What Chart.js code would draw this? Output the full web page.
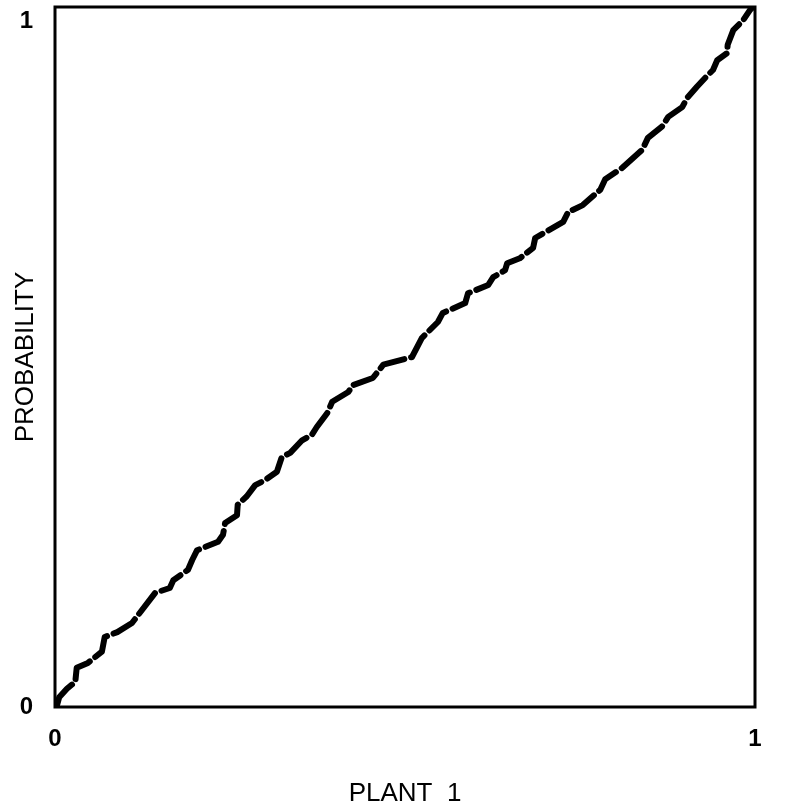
<!DOCTYPE html>
<html>
<head>
<meta charset="utf-8">
<script src="https://cdn.jsdelivr.net/npm/chart.js@4/dist/chart.umd.min.js"></script>
<style>
  html, body { margin: 0; padding: 0; background: #fff; }
  #wrap { width: 805px; height: 809px; position: relative; }
</style>
</head>
<body>
<div id="wrap"><canvas id="c"></canvas></div>
<script>
// Plant 1 cumulative proportion (x) vs probability (y)
const plantValues = [0.003, 0.006, 0.017, 0.029, 0.031, 0.047, 0.067, 0.071, 0.089, 0.110,
  0.143, 0.164, 0.169, 0.190, 0.196, 0.203, 0.233, 0.240, 0.243, 0.260,
  0.261, 0.274, 0.286, 0.300, 0.317, 0.324, 0.336, 0.353, 0.367, 0.374,
  0.389, 0.396, 0.419, 0.426, 0.454, 0.469, 0.510, 0.524, 0.547, 0.554,
  0.586, 0.590, 0.619, 0.626, 0.643, 0.646, 0.664, 0.683, 0.686, 0.726,
  0.733, 0.754, 0.779, 0.786, 0.810, 0.839, 0.847, 0.867, 0.876, 0.896,
  0.903, 0.917, 0.929, 0.940, 0.946, 0.960, 0.961, 0.969, 0.983, 0.993, 0.997];
const probabilityValues = [0.003, 0.014, 0.026, 0.036, 0.056, 0.063, 0.079, 0.100, 0.107, 0.120,
  0.163, 0.170, 0.181, 0.196, 0.210, 0.224, 0.236, 0.246, 0.263, 0.274,
  0.289, 0.301, 0.317, 0.324, 0.336, 0.357, 0.363, 0.381, 0.389, 0.400,
  0.420, 0.436, 0.450, 0.460, 0.470, 0.489, 0.500, 0.527, 0.550, 0.563,
  0.577, 0.591, 0.603, 0.614, 0.624, 0.634, 0.641, 0.656, 0.670, 0.693,
  0.707, 0.717, 0.739, 0.754, 0.770, 0.796, 0.813, 0.829, 0.843, 0.857,
  0.870, 0.886, 0.899, 0.910, 0.924, 0.934, 0.946, 0.967, 0.981, 0.996, 1.000];
const xTickLabels = ['0', '1'];
const yTickLabels = ['0', '1'];
const xTitle = 'PLANT  1';
const yTitle = 'PROBABILITY';

const points = plantValues.map((v, i) => ({ x: v, y: probabilityValues[i] }));

const frame = {
  id: 'frame',
  afterDraw(chart) {
    const { ctx, chartArea: a } = chart;
    ctx.save();
    ctx.strokeStyle = '#000';
    ctx.lineWidth = 3;
    ctx.strokeRect(a.left, a.top, a.right - a.left, a.bottom - a.top);
    ctx.restore();
  }
};
const bg = {
  id: 'bg',
  beforeDraw(chart) {
    const { ctx } = chart;
    ctx.save();
    ctx.fillStyle = '#fff';
    ctx.fillRect(0, 0, chart.width, chart.height);
    ctx.restore();
  }
};

new Chart(document.getElementById('c'), {
  type: 'scatter',
  data: {
    datasets: [{
      data: points,
      showLine: true,
      borderColor: '#000',
      borderWidth: 6,
      borderDash: [26, 7],
      borderCapStyle: 'round',
      borderJoinStyle: 'round',
      pointRadius: 0,
      tension: 0
    }]
  },
  options: {
    responsive: true,
    maintainAspectRatio: false,
    animation: false,
    layout: { padding: { top: 7, right: 50, bottom: 0, left: 0 } },
    plugins: { legend: { display: false }, tooltip: { enabled: false } },
    scales: {
      x: {
        type: 'linear', min: 0, max: 1,
        afterFit(s) { s.height = 102; s.paddingLeft = 0; s.paddingRight = 0; },
        grid: { display: false, drawTicks: false },
        border: { display: false },
        ticks: {
          stepSize: 1, padding: 18, color: '#000',
          font: { family: 'Liberation Sans, Arial, sans-serif', size: 24, weight: 'bold' },
          callback: (v) => xTickLabels[v]
        },
        title: {
          display: true, text: xTitle, color: '#000',
          padding: { top: 11, bottom: 0 },
          font: { family: 'Liberation Sans, Arial, sans-serif', size: 26 }
        }
      },
      y: {
        type: 'linear', min: 0, max: 1,
        afterFit(s) { s.width = 55; s.paddingTop = 0; s.paddingBottom = 0; },
        grid: { display: false, drawTicks: false },
        border: { display: false },
        ticks: {
          stepSize: 1, padding: 22, color: '#000',
          font: { family: 'Liberation Sans, Arial, sans-serif', size: 24, weight: 'bold' },
          callback: (v) => (v === 1 ? ['', yTickLabels[v]] : yTickLabels[v])
        },
        title: {
          display: true, text: yTitle, color: '#000',
          padding: { top: 10, bottom: 0 },
          font: { family: 'Liberation Sans, Arial, sans-serif', size: 26 }
        }
      }
    }
  },
  plugins: [bg, frame]
});
</script>
</body>
</html>
